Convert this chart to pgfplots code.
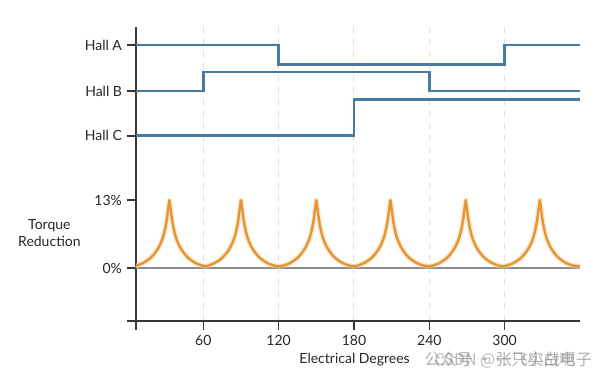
\documentclass[border=0pt]{standalone}
\usepackage{pgfplots}
\usepackage{pgfplotstable}
\pgfplotsset{compat=1.18}
\usepackage{fontspec}
\setmainfont{Lato}
\newfontfamily\cjk{Noto Sans CJK SC}
\definecolor{hallblue}{RGB}{72,122,162}
\definecolor{torqorange}{RGB}{228,150,52}
\definecolor{axisgray}{RGB}{55,55,55}
\definecolor{basegray}{RGB}{140,140,140}
\pgfplotstableread{
x y
6.4 0.55
7 0.5
11 0.85
14 1.25
17 1.75
19 2.2
21 2.75
23 3.4
25 4.2
27 5.3
28 6.0
29 6.9
30 8.0
31 9.4
32 11.3
33 13
34 11.3
35 9.4
36 8.0
37 6.9
38 6.0
39 5.3
41 4.2
43 3.4
45 2.75
47 2.2
49 1.75
52 1.25
55 0.85
59 0.5
61.5 0.35
64 0.5
68 0.85
71 1.25
74 1.75
76 2.2
78 2.75
80 3.4
82 4.2
84 5.3
85 6.0
86 6.9
87 8.0
88 9.4
89 11.3
90 13
91 11.3
92 9.4
93 8.0
94 6.9
95 6.0
96 5.3
98 4.2
100 3.4
102 2.75
104 2.2
106 1.75
109 1.25
112 0.85
116 0.5
120 0.35
124 0.5
128 0.85
131 1.25
134 1.75
136 2.2
138 2.75
140 3.4
142 4.2
144 5.3
145 6.0
146 6.9
147 8.0
148 9.4
149 11.3
150 13
151 11.3
152 9.4
153 8.0
154 6.9
155 6.0
156 5.3
158 4.2
160 3.4
162 2.75
164 2.2
166 1.75
169 1.25
172 0.85
176 0.5
179.5 0.35
183 0.5
187 0.85
190 1.25
193 1.75
195 2.2
197 2.75
199 3.4
201 4.2
203 5.3
204 6.0
205 6.9
206 8.0
207 9.4
208 11.3
209 13
210 11.3
211 9.4
212 8.0
213 6.9
214 6.0
215 5.3
217 4.2
219 3.4
221 2.75
223 2.2
225 1.75
228 1.25
231 0.85
235 0.5
239 0.35
243 0.5
247 0.85
250 1.25
253 1.75
255 2.2
257 2.75
259 3.4
261 4.2
263 5.3
264 6.0
265 6.9
266 8.0
267 9.4
268 11.3
269 13
270 11.3
271 9.4
272 8.0
273 6.9
274 6.0
275 5.3
277 4.2
279 3.4
281 2.75
283 2.2
285 1.75
288 1.25
291 0.85
295 0.5
298.5 0.35
302 0.5
306 0.85
309 1.25
312 1.75
314 2.2
316 2.75
318 3.4
320 4.2
322 5.3
323 6.0
324 6.9
325 8.0
326 9.4
327 11.3
328 13
329 11.3
330 9.4
331 8.0
332 6.9
333 6.0
334 5.3
336 4.2
338 3.4
340 2.75
342 2.2
344 1.75
347 1.25
350 0.85
354 0.5
360 0.35
}\torque
\begin{document}
\fontsize{7}{8.5}\selectfont
\begin{tikzpicture}
\begin{axis}[
  scale only axis,
  width=222pt, height=147pt,
  xmin=6.4, xmax=360,
  ymin=-10.1, ymax=46.1,
  axis lines=left,
  axis line style={-, axisgray, line width=1pt, shorten <=-4.5pt},
  xtick={60,120,180,240,300},
  ytick={0,13,25.3,33.84,42.64},
  yticklabels={0\%,13\%,Hall C,Hall B,Hall A},
  tick align=outside,
  major tick length=4.5pt,
  tick style={axisgray, line width=0.8pt},
  /pgf/number format/assume math mode=true,
  ticklabel style={font=\fontsize{7}{8.5}\selectfont, text=black!85},
  xmajorgrids,
  major x grid style={black!12, dashed, line width=0.5pt},
  clip=false,
]
\coordinate (ll) at (rel axis cs:0,0);
\addplot[basegray, line width=0.8pt] coordinates {(6.4,0) (360,0)};
\addplot[hallblue, line width=1.3pt] coordinates {(6.4,42.64) (120,42.64) (120,38.91) (300,38.91) (300,42.64) (360,42.64)};
\addplot[hallblue, line width=1.3pt] coordinates {(6.4,33.84) (60,33.84) (60,37.53) (240,37.53) (240,33.84) (360,33.84)};
\addplot[hallblue, line width=1.3pt] coordinates {(6.4,25.3) (180,25.3) (180,32.26) (360,32.26)};
\addplot[torqorange!45, line width=2.6pt, opacity=0.5, line join=round] table[x=x,y=y] {\torque};
\addplot[torqorange, line width=1.2pt, line join=round] table[x=x,y=y] {\torque};
\node[anchor=east, align=center, inner sep=0pt, text=black!85, font=\fontsize{7}{8.5}\selectfont] at (axis cs:-37.4,6.7) {Torque\\Reduction};
\node[anchor=center, inner sep=0pt, text=black!85, font=\fontsize{7}{8.5}\selectfont] at (axis cs:180.5,-17.4) {Electrical Degrees};
\node[anchor=west, inner sep=0pt, text=black!45, opacity=0.7, font=\cjk\fontsize{8}{9}\selectfont] at (axis cs:236,-17.4) {公众号 · 张飞实战电子};
\node[anchor=west, inner sep=0pt, text=black!45, opacity=0.6, font=\cjk\fontsize{8}{9}\selectfont] at (axis cs:244,-17.6) {CSDN @一只小白啊};
\end{axis}
\pgfresetboundingbox
\path[use as bounding box] ([shift={(-68pt,-28.5pt)}]ll) rectangle ([shift={(232pt,160.5pt)}]ll);
\end{tikzpicture}
\end{document}
